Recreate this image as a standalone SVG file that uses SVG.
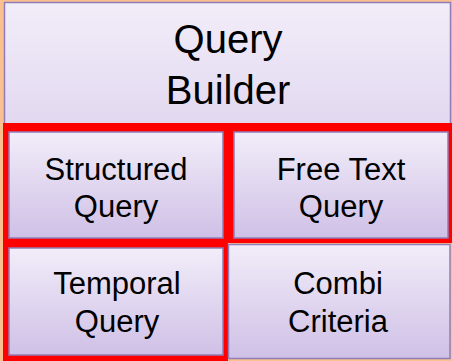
<svg xmlns="http://www.w3.org/2000/svg" width="452" height="361" viewBox="0 0 452 361">
<defs>
<linearGradient id="g" x1="0" y1="0" x2="0" y2="1">
<stop offset="0" stop-color="#F2EDF9"/>
<stop offset="1" stop-color="#CFC0E6"/>
</linearGradient>
<linearGradient id="gt" x1="0" y1="0" x2="0" y2="1">
<stop offset="0" stop-color="#F2EDF9"/>
<stop offset="1" stop-color="#E2D8F0"/>
</linearGradient>
</defs>
<style>
.box{fill:url(#g);stroke:#8F7DB8;stroke-width:1.5}
.top{fill:url(#gt);stroke:#8F7DB8;stroke-width:1.5}
.frame{fill:#FF0000}
text{font-family:"Liberation Sans",Arial,sans-serif;fill:#000;text-anchor:middle}
.big{font-size:40px}
.sm{font-size:31px}
</style>
<rect x="0" y="0" width="452" height="361" fill="#FAC090"/>
<g id="query-builder">
<rect class="top" x="4.5" y="2.5" width="446" height="124"/>
<text class="big" x="228" y="53">Query</text>
<text class="big" x="228" y="104">Builder</text>
</g>
<g id="structured-query">
<rect class="frame" x="3" y="123" width="225" height="120"/>
<rect class="box" x="9" y="132" width="214" height="106"/>
<text class="sm" x="116" y="180">Structured</text>
<text class="sm" x="116" y="217">Query</text>
</g>
<g id="free-text-query">
<rect class="frame" x="228" y="123" width="224" height="120"/>
<rect class="box" x="234" y="132" width="214" height="106"/>
<text class="sm" x="341" y="180">Free Text</text>
<text class="sm" x="341" y="217">Query</text>
</g>
<g id="temporal-query">
<rect class="frame" x="3" y="243" width="225" height="118"/>
<rect class="box" x="9" y="248" width="214" height="107"/>
<text class="sm" x="117" y="294">Temporal</text>
<text class="sm" x="117" y="332">Query</text>
</g>
<g id="combi-criteria">
<rect class="box" x="228.5" y="244.5" width="221.5" height="114"/>
<text class="sm" x="338" y="294">Combi</text>
<text class="sm" x="338" y="332">Criteria</text>
</g>
</svg>
